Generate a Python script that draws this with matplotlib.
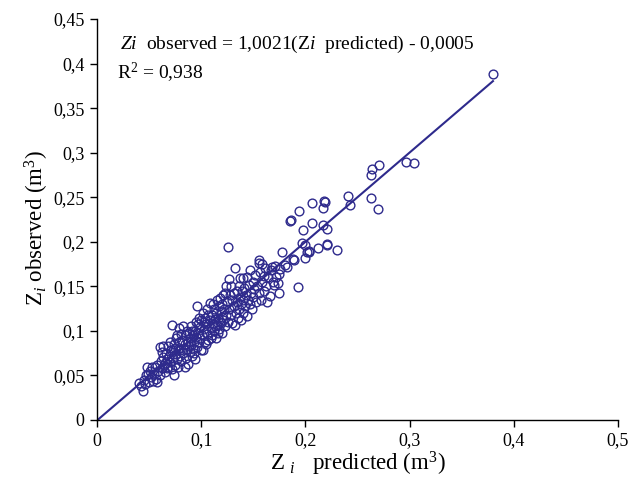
import matplotlib
matplotlib.use("Agg")
import matplotlib.pyplot as plt
import numpy as np

plt.rcParams['font.family'] = ['Liberation Serif', 'DejaVu Serif']
plt.rcParams['mathtext.fontset'] = 'custom'
plt.rcParams['mathtext.rm'] = 'Liberation Serif'
plt.rcParams['mathtext.it'] = 'Liberation Serif:italic'
plt.rcParams['mathtext.bf'] = 'Liberation Serif:bold'

pts = [
    # 0.04-0.06
    (0.040,0.042),(0.042,0.038),(0.044,0.033),(0.045,0.045),(0.047,0.050),(0.048,0.059),(0.050,0.043),
    (0.051,0.055),(0.052,0.048),(0.053,0.060),(0.055,0.052),(0.056,0.059),(0.057,0.046),(0.058,0.043),
    (0.058,0.062),(0.059,0.055),(0.060,0.050),(0.049,0.052),(0.054,0.044),(0.046,0.040),
    # 0.06-0.08
    (0.060,0.082),(0.061,0.066),(0.062,0.058),(0.063,0.083),(0.063,0.071),(0.064,0.062),(0.065,0.054),
    (0.066,0.075),(0.067,0.068),(0.068,0.083),(0.068,0.060),(0.069,0.072),(0.070,0.065),(0.071,0.078),
    (0.072,0.107),(0.072,0.057),(0.073,0.070),(0.074,0.051),(0.074,0.085),(0.075,0.062),(0.076,0.074),
    (0.076,0.092),(0.077,0.068),(0.078,0.080),(0.078,0.060),(0.079,0.103),(0.079,0.088),(0.080,0.072),
    (0.065,0.064),(0.070,0.088),(0.073,0.078),(0.075,0.081),(0.077,0.095),(0.062,0.076),(0.067,0.058),
    # 0.08-0.10
    (0.080,0.079),(0.081,0.066),(0.082,0.090),(0.083,0.105),(0.083,0.075),(0.084,0.085),(0.085,0.070),
    (0.085,0.095),(0.086,0.080),(0.087,0.088),(0.087,0.063),(0.088,0.098),(0.089,0.076),(0.089,0.092),
    (0.090,0.084),(0.090,0.105),(0.091,0.072),(0.092,0.095),(0.092,0.080),(0.093,0.088),(0.094,0.100),
    (0.094,0.068),(0.095,0.093),(0.095,0.110),(0.096,0.128),(0.096,0.082),(0.097,0.098),(0.098,0.087),
    (0.098,0.115),(0.099,0.092),(0.099,0.104),(0.100,0.078),(0.100,0.112),(0.081,0.097),(0.084,0.060),
    (0.086,0.100),(0.088,0.083),(0.091,0.100),(0.093,0.075),(0.097,0.108),
    # 0.10-0.12
    (0.101,0.095),(0.102,0.079),(0.102,0.120),(0.103,0.102),(0.104,0.088),(0.104,0.115),(0.105,0.108),
    (0.106,0.097),(0.106,0.125),(0.107,0.090),(0.108,0.131),(0.108,0.112),(0.109,0.103),(0.110,0.118),
    (0.110,0.095),(0.111,0.108),(0.112,0.125),(0.112,0.100),(0.113,0.113),(0.114,0.092),(0.114,0.120),
    (0.115,0.107),(0.115,0.135),(0.116,0.115),(0.117,0.102),(0.117,0.128),(0.118,0.137),(0.118,0.110),
    (0.119,0.122),(0.120,0.098),(0.120,0.116),(0.120,0.130),(0.103,0.110),(0.105,0.085),(0.107,0.118),
    (0.109,0.092),(0.111,0.130),(0.113,0.105),(0.116,0.098),(0.119,0.109),
    # 0.12-0.14
    (0.121,0.140),(0.121,0.112),(0.122,0.125),(0.123,0.142),(0.123,0.105),(0.124,0.118),(0.125,0.133),
    (0.126,0.194),(0.126,0.110),(0.127,0.158),(0.127,0.125),(0.128,0.140),(0.129,0.118),(0.130,0.135),
    (0.130,0.109),(0.131,0.142),(0.131,0.128),(0.132,0.171),(0.132,0.107),(0.133,0.120),(0.134,0.145),
    (0.134,0.132),(0.135,0.115),(0.136,0.150),(0.136,0.125),(0.137,0.159),(0.137,0.138),(0.138,0.112),
    (0.138,0.130),(0.139,0.145),(0.140,0.159),(0.140,0.120),(0.140,0.135),(0.124,0.150),(0.129,0.150),
    # 0.14-0.16
    (0.141,0.148),(0.142,0.128),(0.143,0.140),(0.144,0.160),(0.144,0.117),(0.145,0.135),(0.146,0.152),
    (0.147,0.168),(0.147,0.130),(0.148,0.142),(0.149,0.125),(0.150,0.155),(0.150,0.138),(0.151,0.147),
    (0.152,0.163),(0.153,0.132),(0.154,0.150),(0.155,0.176),(0.155,0.142),(0.156,0.166),(0.157,0.135),
    (0.158,0.175),(0.158,0.155),(0.160,0.145),(0.160,0.162),
    # 0.16-0.20
    (0.161,0.171),(0.162,0.150),(0.163,0.132),(0.164,0.160),(0.166,0.139),(0.167,0.168),(0.168,0.172),
    (0.169,0.155),(0.170,0.152),(0.171,0.173),(0.172,0.160),(0.174,0.154),(0.175,0.164),(0.175,0.143),
    (0.176,0.170),(0.178,0.189),(0.180,0.174),(0.182,0.172),(0.185,0.223),(0.186,0.224),(0.189,0.180),
    (0.193,0.149),(0.194,0.235),(0.197,0.199),(0.198,0.213),
    # 0.20+
    (0.200,0.196),(0.200,0.182),(0.202,0.189),(0.203,0.190),(0.203,0.188),(0.206,0.244),(0.206,0.221),
    (0.212,0.193),(0.217,0.219),(0.217,0.238),(0.218,0.246),(0.219,0.245),(0.221,0.214),(0.221,0.198),
    (0.221,0.196),(0.230,0.191),(0.241,0.251),(0.243,0.241),(0.263,0.249),(0.270,0.237),(0.263,0.275),
    (0.264,0.282),(0.271,0.286),(0.297,0.290),(0.304,0.288),(0.380,0.388),(0.188,0.181),(0.155,0.180),
]
predicted = [p[0] for p in pts]
observed = [p[1] for p in pts]

slope = 1.0021
intercept = -0.0005
line_x = [0.0, 0.38]

x_ticks = [0, 0.1, 0.2, 0.3, 0.4, 0.5]
x_ticklabels = ['0', '0,1', '0,2', '0,3', '0,4', '0,5']
y_ticks = [0, 0.05, 0.1, 0.15, 0.2, 0.25, 0.3, 0.35, 0.4, 0.45]
y_ticklabels = ['0', '0,05', '0,1', '0,15', '0,2', '0,25', '0,3', '0,35', '0,4', '0,45']

color = '#2E2A8C'

fig = plt.figure(figsize=(6.41, 4.91), dpi=100)
ax = fig.add_axes([97/641, 1 - 420/491, 521/641, 401/491])

ax.plot(predicted, observed, 'o', mfc='none', mec=color, ms=6.3, mew=1.0, zorder=3)
lx = np.array(line_x)
ax.plot(lx, slope * lx + intercept, color=color, lw=1.5, zorder=2)

ax.set_xlim(0, 0.5)
ax.set_ylim(0, 0.45)
ax.set_xticks(x_ticks)
ax.set_xticklabels(x_ticklabels)
ax.set_yticks(y_ticks)
ax.set_yticklabels(y_ticklabels)
ax.tick_params(direction='out', length=5, width=1, labelsize=13, color='black', pad=4)
for s in ['top', 'right']:
    ax.spines[s].set_visible(False)
for s in ['left', 'bottom']:
    ax.spines[s].set_linewidth(1)
    ax.spines[s].set_color('black')

ax.set_xlabel(r'Z $_{\mathit{i}}$   predicted (m$^{3}$)', fontsize=16.5)
ax.set_ylabel(r'Z$_{\mathit{i}}$ observed (m$^{3}$)', fontsize=16.5)
ax.xaxis.set_label_coords(0.50, -0.075)
ax.yaxis.set_label_coords(-0.088, 0.48)

ax.text(0.045, 0.937, r'$\mathit{Zi}$  observed = 1,0021(Z$\mathit{i}$  predicted) - 0,0005',
        transform=ax.transAxes, fontsize=14, va='center', ha='left')
ax.text(0.038, 0.866, r'R$^{2}$ = 0,938', transform=ax.transAxes, fontsize=14, va='center', ha='left')

fig.savefig('out.png', dpi=100)
